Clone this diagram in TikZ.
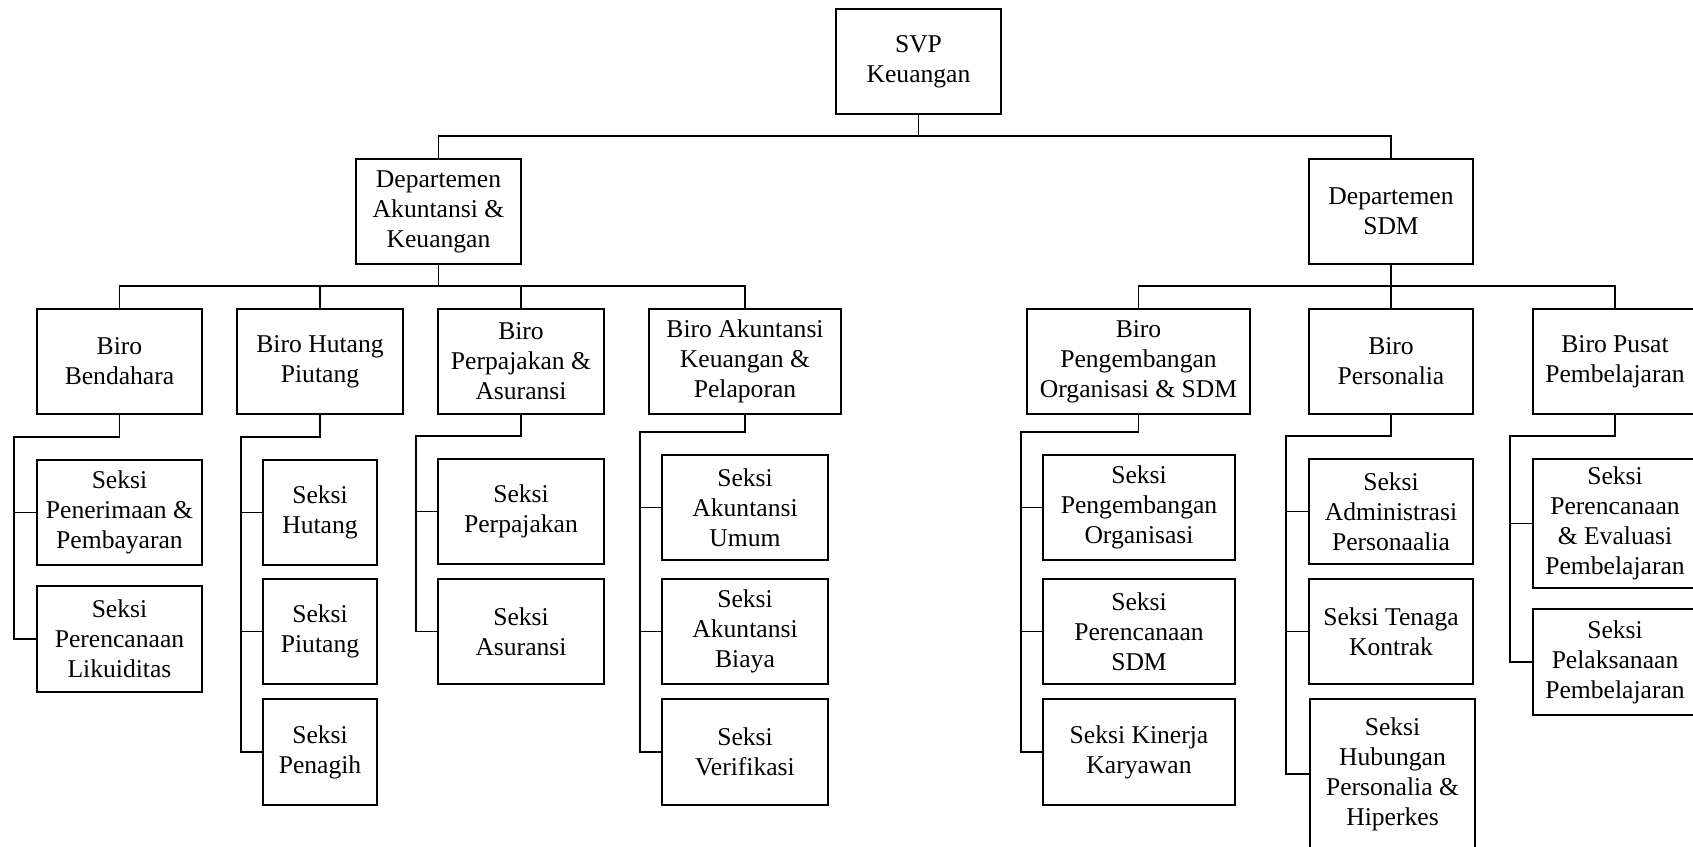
\documentclass[tikz,border=0pt]{standalone}
\usepackage{fontspec}
\setmainfont{Liberation Serif}
\begin{document}
\begin{tikzpicture}[x=1pt,y=-1pt,
  box/.style={draw=black,line width=1.6pt,fill=white,inner sep=0pt,align=center,
    minimum width=165pt,minimum height=105pt,font=\fontsize{25.6}{30}\selectfont},
  link/.style={draw=black,line width=1.2pt}]
\useasboundingbox (0,0) rectangle (1693,846);
% top levels
\node[box] (svp) at (918.5,61.5) {SVP\\Keuangan};
\node[box] (dak) at (438.5,211.5) {Departemen\\Akuntansi \&\\Keuangan};
\node[box,minimum width=164pt] (dsdm) at (1391,211.5) {Departemen\\SDM};
% biro
\node[box] (b1) at (119.5,361.5) {Biro\\Bendahara};
\node[box,minimum width=166pt] (b2) at (320,361.5) {Biro Hutang\\Piutang};
\node[box,minimum width=166pt] (b3) at (521,361.5) {Biro\\Perpajakan \&\\Asuransi};
\node[box,minimum width=192pt] (b4) at (745,361.5) {Biro Akuntansi\\Keuangan \&\\Pelaporan};
\node[box,minimum width=223pt] (b5) at (1138.5,361.5) {Biro\\Pengembangan\\Organisasi \& SDM};
\node[box,minimum width=164pt] (b6) at (1391,361.5) {Biro\\Personalia};
\node[box,minimum width=164pt] (b7) at (1615,361.5) {Biro Pusat\\Pembelajaran};
% seksi
\node[box] (s11) at (119.5,512.5) {Seksi\\Penerimaan \&\\Pembayaran};
\node[box,minimum height=106pt] (s12) at (119.5,639) {Seksi\\Perencanaan\\Likuiditas};
\node[box,minimum width=114pt] (s21) at (320,512.5) {Seksi\\Hutang};
\node[box,minimum width=114pt] (s22) at (320,631.5) {Seksi\\Piutang};
\node[box,minimum width=114pt,minimum height=106pt] (s23) at (320,752) {Seksi\\Penagih};
\node[box,minimum width=166pt] (s31) at (521,511.5) {Seksi\\Perpajakan};
\node[box,minimum width=166pt] (s32) at (521,631.5) {Seksi\\Asuransi};
\node[box,minimum width=166pt] (s41) at (745,507.5) {Seksi\\Akuntansi\\Umum};
\node[box,minimum width=166pt] (s42) at (745,631.5) {Seksi\\Akuntansi\\Biaya};
\node[box,minimum width=166pt,minimum height=106pt] (s43) at (745,752) {Seksi\\Verifikasi};
\node[box,minimum width=192pt] (s51) at (1139,507.5) {Seksi\\Pengembangan\\Organisasi};
\node[box,minimum width=192pt] (s52) at (1139,631.5) {Seksi\\Perencanaan\\SDM};
\node[box,minimum width=192pt,minimum height=106pt] (s53) at (1139,752) {Seksi Kinerja\\Karyawan};
\node[box,minimum width=164pt] (s61) at (1391,511.5) {Seksi\\Administrasi\\Personaalia};
\node[box,minimum width=164pt] (s62) at (1391,631.5) {Seksi Tenaga\\Kontrak};
\node[box,minimum width=165pt,minimum height=150pt] (s63) at (1392.5,774) {Seksi\\Hubungan\\Personalia \&\\Hiperkes};
\node[box,minimum width=164pt,minimum height=129pt] (s71) at (1615,523.5) {Seksi\\Perencanaan\\\& Evaluasi\\Pembelajaran};
\node[box,minimum width=164pt,minimum height=106pt] (s72) at (1615,662) {Seksi\\Pelaksanaan\\Pembelajaran};
% connector points
\coordinate (h0) at (918.5,136);
\coordinate (h1) at (438.5,286);
\coordinate (h2) at (1391,286);
\coordinate (k1) at (14,437);
\coordinate (k2) at (241,437);
\coordinate (k3) at (416,436);
\coordinate (k4) at (640,432);
\coordinate (k5) at (1021,432);
\coordinate (k6) at (1286,436);
\coordinate (k7) at (1510,436);
% top connectors
\draw[link] (svp.south) -- (h0);
\draw[link] (dak.north) |- (h0) -| (dsdm.north);
\draw[link] (dak.south) -- (h1);
\draw[link] (b1.north) |- (h1) -| (b4.north);
\draw[link] (b2.north) -- (b2.north |- h1);
\draw[link] (b3.north) -- (b3.north |- h1);
\draw[link] (dsdm.south) -- (h2);
\draw[link] (b5.north) |- (h2) -| (b7.north);
\draw[link] (b6.north) -- (h2);
% columns
\draw[link] (b1.south) |- (k1) |- (s12.west);
\draw[link] (k1 |- s11.west) -- (s11.west);
\draw[link] (b2.south) |- (k2) |- (s23.west);
\draw[link] (k2 |- s21.west) -- (s21.west);
\draw[link] (k2 |- s22.west) -- (s22.west);
\draw[link] (b3.south) |- (k3) |- (s32.west);
\draw[link] (k3 |- s31.west) -- (s31.west);
\draw[link] (b4.south) |- (k4) |- (s43.west);
\draw[link] (k4 |- s41.west) -- (s41.west);
\draw[link] (k4 |- s42.west) -- (s42.west);
\draw[link] (b5.south) |- (k5) |- (s53.west);
\draw[link] (k5 |- s51.west) -- (s51.west);
\draw[link] (k5 |- s52.west) -- (s52.west);
\draw[link] (b6.south) |- (k6) |- (s63.west);
\draw[link] (k6 |- s61.west) -- (s61.west);
\draw[link] (k6 |- s62.west) -- (s62.west);
\draw[link] (b7.south) |- (k7) |- (s72.west);
\draw[link] (k7 |- s71.west) -- (s71.west);
\end{tikzpicture}
\end{document}
